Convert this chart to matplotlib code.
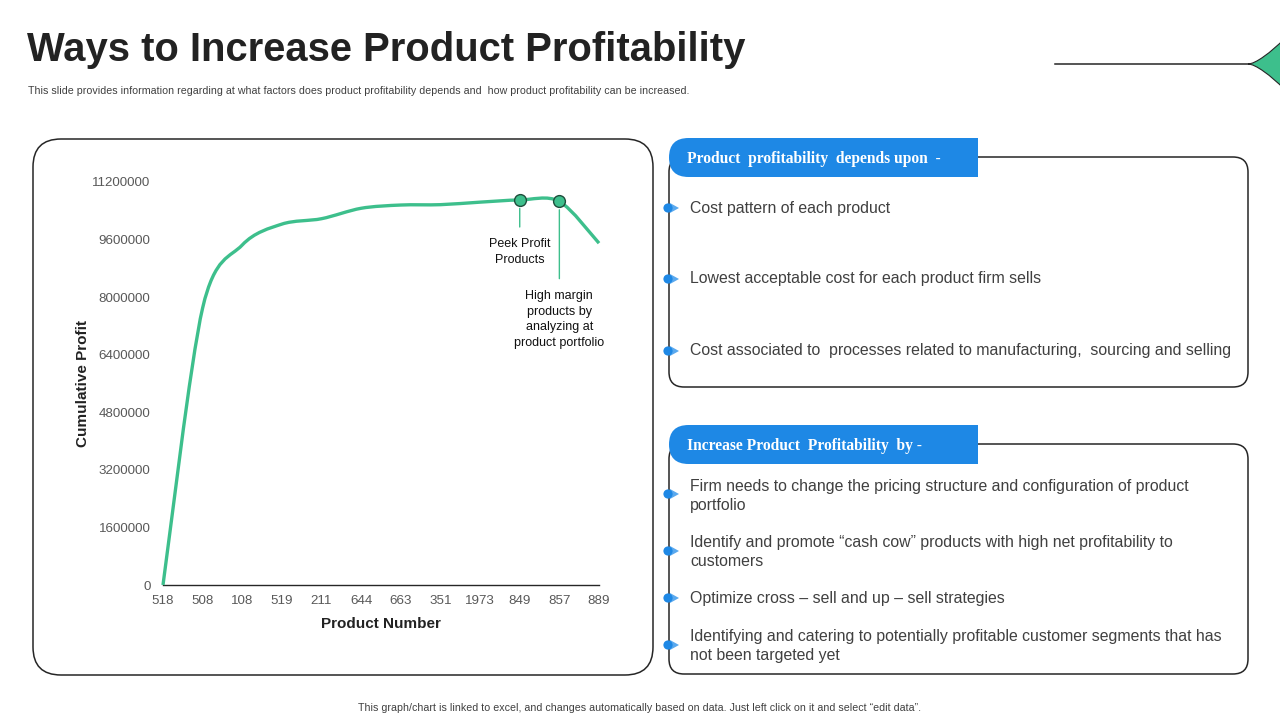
import matplotlib
matplotlib.use("Agg")
import matplotlib.pyplot as plt
from matplotlib import font_manager
from matplotlib.patches import FancyBboxPatch, PathPatch, Circle, Polygon
from matplotlib.path import Path
import numpy as np

# ---------------- data ----------------
products = ["518", "508", "108", "519", "211", "644", "663", "351", "1973", "849", "857", "889"]
cumulative_profit = [0, 7700000, 9450000, 10030000, 10180000, 10470000, 10560000,
                     10570000, 10640000, 10700000, 10660000, 9500000]
y_ticks = [0, 1600000, 3200000, 4800000, 6400000, 8000000, 9600000, 11200000]
peak_products = ["849", "857"]
peak_labels = ["Peek Profit\nProducts", "High margin\nproducts by\nanalyzing at\nproduct portfolio"]

title = "Ways to Increase Product Profitability"
subtitle = ("This slide provides information regarding at what factors does product profitability "
            "depends and  how product profitability can be increased.")
footer = ("This graph/chart is linked to excel, and changes automatically based on data. "
          "Just left click on it and select \u201cedit data\u201d.")
header1 = "Product  profitability  depends upon  -"
bullets1 = ["Cost pattern of each product",
            "Lowest acceptable cost for each product firm sells",
            "Cost associated to  processes related to manufacturing,  sourcing and selling"]
header2 = "Increase Product  Profitability  by -"
bullets2 = ["Firm needs to change the pricing structure and configuration of product\nportfolio",
            "Identify and promote \u201ccash cow\u201d products with high net profitability to\ncustomers",
            "Optimize cross \u2013 sell and up \u2013 sell strategies",
            "Identifying and catering to potentially profitable customer segments that has\nnot been targeted yet"]

# ---------------- fonts ----------------
names = {f.name for f in font_manager.fontManager.ttflist}
SANS = "Liberation Sans" if "Liberation Sans" in names else "DejaVu Sans"
SERIF = "Liberation Serif" if "Liberation Serif" in names else "DejaVu Serif"
plt.rcParams["font.family"] = [SANS, "DejaVu Sans"]

GREEN = "#3DBF8C"
BLUE = "#1E88E5"
DARK = "#262626"
TEXT = "#404040"

fig = plt.figure(figsize=(12.8, 7.2), dpi=100)
bg = fig.add_axes([0, 0, 1, 1])
bg.set_xlim(0, 1280)
bg.set_ylim(720, 0)
bg.axis("off")

# title & subtitle
bg.text(27, 50, title, fontsize=28.8, fontweight="bold", color="#222222",
        va="center", ha="left")
bg.text(28, 91, subtitle, fontsize=7.62, color=TEXT, va="center", ha="left")
bg.text(640, 708, footer, fontsize=7.7, color=TEXT, va="center", ha="center")

# decoration top right (four-pointed star, partly off the slide)
bg.plot([1055, 1250], [64, 64], color=DARK, lw=1.1)
cx, cy, R, p = 1310, 64, 62, 15
star_verts = [(cx - R, cy),
              (cx - R + p, cy), (cx, cy - R + p), (cx, cy - R),
              (cx, cy - R + p), (cx + R - p, cy), (cx + R, cy),
              (cx + R - p, cy), (cx, cy + R - p), (cx, cy + R),
              (cx, cy + R - p), (cx - R + p, cy), (cx - R, cy),
              (cx - R, cy)]
star_codes = [Path.MOVETO] + [Path.CURVE4] * 12 + [Path.CLOSEPOLY]
bg.add_patch(PathPatch(Path(star_verts, star_codes), facecolor=GREEN, edgecolor=DARK, lw=0.8))

# left chart frame
bg.add_patch(FancyBboxPatch((33, 139), 620, 536, boxstyle="round,pad=0,rounding_size=28",
                            facecolor="white", edgecolor=DARK, lw=1.1))


def panel(top, header, bullets, bullet_ys, text_ys):
    bg.add_patch(FancyBboxPatch((669, top + 19), 579, 230,
                                boxstyle="round,pad=0,rounding_size=15",
                                facecolor="white", edgecolor=DARK, lw=1.1))
    h = 39
    r = h / 2
    x0, x1 = 669, 978
    verts = [(x1, top), (x0 + r, top), (x0, top), (x0, top + r), (x0, top + h),
             (x0 + r, top + h), (x1, top + h), (x1, top)]
    codes = [Path.MOVETO, Path.LINETO, Path.CURVE3, Path.CURVE3, Path.CURVE3, Path.CURVE3,
             Path.LINETO, Path.CLOSEPOLY]
    bg.add_patch(PathPatch(Path(verts, codes), facecolor=BLUE, edgecolor="none"))
    bg.text(687, top + 21, header, fontsize=11.2, fontweight="bold", color="white",
            family=[SERIF, "DejaVu Serif"], va="center", ha="left")
    for txt, by, ty in zip(bullets, bullet_ys, text_ys):
        bg.add_patch(Polygon([(670, by - 5), (679, by), (670, by + 5)], closed=True,
                             facecolor="#5AA9EE", edgecolor="none", zorder=3))
        bg.add_patch(Circle((668, by), 4.6, facecolor=BLUE, edgecolor="none", zorder=4))
        bg.text(690, ty, txt, fontsize=11.4, color=TEXT, va="center", ha="left",
                linespacing=1.3)


panel(138, header1, bullets1, [208, 279, 351], [208, 279, 351])
panel(425, header2, bullets2, [494, 551, 598, 645], [496, 552, 599, 646])

# ---------------- chart ----------------
L, B, W, H = 163, 585, 436, 403
ax = fig.add_axes([L / 1280, (720 - B) / 720, W / 1280, H / 720])
ax.patch.set_alpha(0)
x = np.arange(len(products))
y = np.array(cumulative_profit, dtype=float)

# smoothed line (Catmull-Rom as cubic Bezier, like a spreadsheet "smoothed line")
pts = np.column_stack([x, y])
ext = np.vstack([pts[0], pts, pts[-1]])
verts = [tuple(pts[0])]
codes = [Path.MOVETO]
for i in range(len(pts) - 1):
    p0, p1, p2, p3 = ext[i], ext[i + 1], ext[i + 2], ext[i + 3]
    c1 = p1 + (p2 - p0) / 6.5
    c2 = p2 - (p3 - p1) / 6.5
    verts += [tuple(c1), tuple(c2), tuple(p2)]
    codes += [Path.CURVE4] * 3
ax.add_patch(PathPatch(Path(verts, codes), facecolor="none", edgecolor=GREEN, lw=2.4,
                       capstyle="butt", joinstyle="round", zorder=3, clip_on=False))

offsets = [-52, -118]
for prod, lab, off in zip(peak_products, peak_labels, offsets):
    i = products.index(prod)
    ax.plot(x[i], y[i], "o", ms=8.5, mfc=GREEN, mec="#1E4D3B", mew=1, zorder=5, clip_on=False)
    ax.annotate(lab, xy=(x[i], y[i]), xytext=(0, off), textcoords="offset pixels",
                ha="center", va="center", fontsize=9, color="#111111", linespacing=1.42,
                arrowprops=dict(arrowstyle="-", color=GREEN, lw=1, shrinkA=6, shrinkB=6))

ax.set_xlim(0, len(products) - 1)
ax.set_ylim(0, 11200000)
ax.set_xticks(x)
ax.set_xticklabels(products)
ax.set_yticks(y_ticks)
ax.set_yticklabels([str(v) for v in y_ticks])
ax.tick_params(axis="both", length=0, labelsize=9.6, labelcolor="#595959")
ax.tick_params(axis="y", pad=9)
ax.tick_params(axis="x", pad=7)
for s in ["top", "right", "left"]:
    ax.spines[s].set_visible(False)
ax.spines["bottom"].set_color(DARK)
ax.spines["bottom"].set_linewidth(1)
ax.set_ylabel("Cumulative Profit", fontsize=11, fontweight="bold", color="#222222")
ax.yaxis.set_label_coords(-0.167, 0.5)
ax.set_xlabel("Product Number", fontsize=11, fontweight="bold", color="#222222")
ax.xaxis.set_label_coords(0.5, -0.08)

fig.savefig("out.png", dpi=100)
